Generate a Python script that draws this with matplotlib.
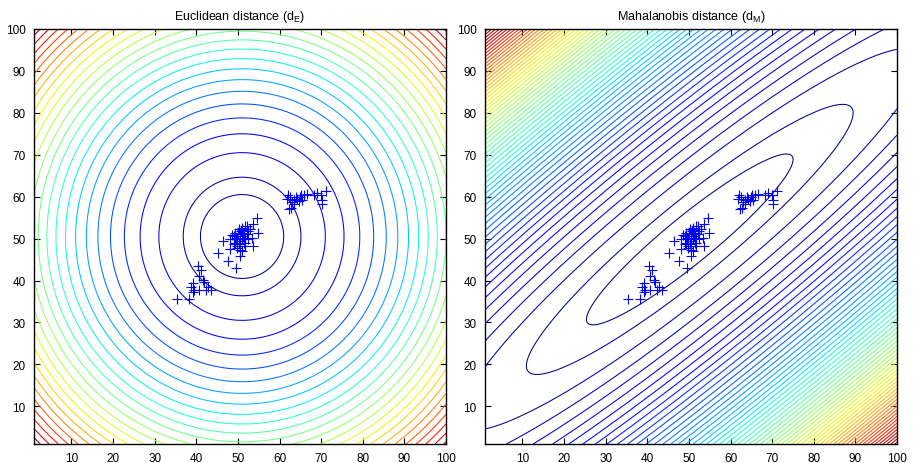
import numpy as np
import matplotlib.pyplot as plt

plt.rcParams['font.family'] = ['Liberation Sans', 'DejaVu Sans']

# sample points
pts_x = [62.0, 62.6, 63.0, 63.4, 64.2, 65.0, 65.8, 65.4, 64.6, 63.4, 62.2, 62.8,
         68.3, 69.1, 69.9, 71.1, 70.1, 70.3, 64.0, 61.7, 66.5, 65.2,
         35.4, 38.3, 39.1, 40.3, 41.1, 40.7, 41.5, 41.9, 39.1, 39.5, 40.7, 42.3,
         43.6, 38.7, 42.7,
         54.5, 53.7, 52.1, 52.5, 54.9, 50.2, 51.4, 50.6, 49.0, 48.2, 46.4, 49.0,
         49.8, 51.4, 52.5, 53.3, 53.7, 50.9, 50.6, 48.2, 45.2, 47.6, 49.6, 51.8,
         51.0, 52.1, 49.4, 50.9, 51.8, 49.8, 49.8,
         50.0, 50.8, 51.2, 49.6, 50.4, 51.6, 50.2, 49.2, 51.0, 52.8, 48.6, 50.6,
         51.8]
pts_y = [60.3, 60.0, 58.7, 59.1, 59.5, 59.9, 60.3, 59.1, 58.9, 58.2, 57.0, 57.4,
         60.5, 60.9, 60.3, 61.3, 59.1, 58.2, 60.0, 59.4, 60.6, 60.5,
         35.7, 35.7, 37.3, 43.4, 42.6, 41.0, 40.1, 39.7, 39.3, 37.7, 37.7, 37.7,
         37.7, 38.5, 38.5,
         54.8, 53.4, 53.0, 51.8, 51.4, 52.2, 51.4, 50.6, 50.6, 49.8, 49.4, 48.6,
         48.2, 49.0, 49.8, 50.2, 48.2, 47.0, 45.8, 47.4, 46.6, 44.7, 42.9, 50.2,
         49.8, 51.0, 51.4, 52.6, 53.0, 49.8, 47.8,
         51.0, 51.8, 50.6, 50.2, 49.4, 49.0, 48.6, 49.0, 52.0, 52.2, 50.8, 47.2,
         48.2]

eucl_center = [51.0, 50.5]     # centre of the circles
maha_center = [50.2, 49.8]     # centre of the ellipses
eucl_step, eucl_first = 200.0, 0.5   # contour spacing / first contour (x step)
maha_step, maha_first = 1.0, 0.4
sd_major, sd_minor = 50.0, 8.9 # spread of the cloud along / across its axis
angle_deg = 39.0               # direction of the main axis
tick_vals = [10, 20, 30, 40, 50, 60, 70, 80, 90, 100]

# grid
g = np.linspace(1, 100, 500)
X, Y = np.meshgrid(g, g)

# euclidean distance (squared)
DE = (X - eucl_center[0])**2 + (Y - eucl_center[1])**2

# mahalanobis distance (squared)
dx = X - maha_center[0]
dy = Y - maha_center[1]
th = np.radians(angle_deg)
R = np.array([[np.cos(th), -np.sin(th)], [np.sin(th), np.cos(th)]])
C = R @ np.diag([sd_major**2, sd_minor**2]) @ R.T
P = np.linalg.inv(C)
DM = P[0, 0]*dx**2 + 2*P[0, 1]*dx*dy + P[1, 1]*dy**2


def make_levels(D, step, first):
    n = int(D.max() // step)
    return step*np.r_[first, np.arange(1, n + 1)]


def draw_panel(ax, D, levels, title):
    ax.contour(X, Y, D, levels=levels, cmap='jet',
               vmin=D.min(), vmax=D.max(), linewidths=0.75)
    ax.plot(pts_x, pts_y, '+', color='b', ms=6.5, mew=0.8)
    ax.set_xlim(1, 100)
    ax.set_ylim(1, 100)
    ax.set_xticks(tick_vals)
    ax.set_yticks(tick_vals)
    ax.tick_params(direction='in', top=True, right=True, length=4,
                   labelsize=8.5, pad=6)
    for s in ax.spines.values():
        s.set_linewidth(1.0)
    ax.set_title(title, fontsize=9, pad=7)


fig = plt.figure(figsize=(9.13, 4.64), dpi=100)
ax1 = fig.add_axes([34/913, 19/464, 412/913, 415/464])
ax2 = fig.add_axes([485/913, 19/464, 412/913, 415/464])

draw_panel(ax1, DE, make_levels(DE, eucl_step, eucl_first),
           r'Euclidean distance (d$_\mathregular{E}$)')
draw_panel(ax2, DM, make_levels(DM, maha_step, maha_first),
           r'Mahalanobis distance (d$_\mathregular{M}$)')

fig.savefig('out.png', dpi=100)
